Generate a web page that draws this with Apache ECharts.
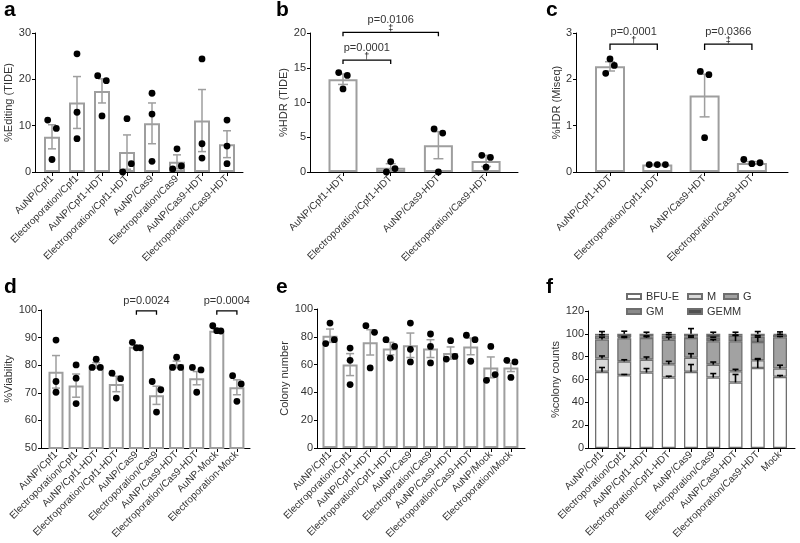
<!DOCTYPE html>
<html><head><meta charset="utf-8">
<script src="https://cdn.jsdelivr.net/npm/echarts@6/dist/echarts.min.js"></script>
<style>html,body{margin:0;padding:0;background:#fff}#c{width:800px;height:543px}</style>
</head><body><div id="c"></div><script>
// ---------------- DATA ----------------
const catsA = ['AuNP/Cpf1','Electroporation/Cpf1','AuNP/Cpf1-HDT','Electroporation/Cpf1-HDT','AuNP/Cas9','Electroporation/Cas9','AuNP/Cas9-HDT','Electroporation/Cas9-HDT'];
const meanA = [7.6,15.0,17.5,4.3,10.5,2.2,11.1,6.0];
const semA  = [2.6,5.6,2.6,3.7,4.4,1.5,6.7,2.9];
const dotsA = [[11.2,9.4,2.7],[25.5,12.9,7.2],[20.8,19.7,12.1],[0,1.8,11.5],[17.0,12.5,2.3],[0.65,1.3,5.0],[24.4,6.1,3.0],[11.2,5.6,1.8]];
const ticksA = [0,10,20,30];

const catsB = ['AuNP/Cpf1-HDT','Electroporation/Cpf1-HDT','AuNP/Cas9-HDT','Electroporation/Cas9-HDT'];
const meanB = [13.35,0.6,3.86,1.6];
const semB  = [0.75,0.6,1.95,0.8];
const dotsB = [[14.3,13.9,11.95],[0,1.5,0.5],[6.2,5.6,0],[2.4,2.1,0.7]];
const ticksB = [0,5,10,15,20];
const bracketsB = [[0,1,16.1,'p=0.0001','†'],[0,2,20.1,'p=0.0106','‡']];

const catsC = ['AuNP/Cpf1-HDT','Electroporation/Cpf1-HDT','AuNP/Cas9-HDT','Electroporation/Cas9-HDT'];
const meanC = [2.28,0.16,1.65,0.195];
const semC  = [0.1,0.01,0.46,0.03];
const dotsC = [[2.13,2.44,2.30],[0.16,0.16,0.16],[2.17,2.10,0.74],[0.27,0.18,0.20]];
const ticksC = [0,1,2,3];
const bracketsC = [[0,1,2.76,'p=0.0001','†'],[2,3,2.76,'p=0.0366','‡']];

const catsD = ['AuNP/Cpf1','Electroporation/Cpf1','AuNP/Cpf1-HDT','Electroporation/Cpf1-HDT','AuNP/Cas9','Electroporation/Cas9','AuNP/Cas9-HDT','Electroporation/Cas9-HDT','AuNP-Mock','Electroporation-Mock'];
const meanD = [77.6,72.6,79.9,73.2,86.7,69.1,80.3,75.3,92.5,72.0];
const semD  = [5.9,4.2,1.0,2.8,0.7,3.3,1.2,2.4,0.6,2.7];
const dotsD = [[89.1,74.1,70.2],[80.1,75.3,66.1],[79.2,82.2,79.2],[77.1,75.1,68.1],[88.3,86.3,86.3],[74.1,71.1,63.0],[79.2,82.9,79.2],[79.2,78.3,70.2],[94.3,92.5,92.4],[76.2,73.2,66.9]];
const ticksD = [50,60,70,80,90,100];
const bracketsD = [[4,5,99.7,'p=0.0024',''],[8,9,99.7,'p=0.0004','']];

const catsE = ['AuNP/Cpf1','Electroporation/Cpf1','AuNP/Cpf1-HDT','Electroporation/Cpf1-HDT','AuNP/Cas9','Electroporation/Cas9','AuNP/Cas9-HDT','Electroporation/Cas9-HDT','AuNP/Mock','Electroporation/Mock'];
const meanE = [80.8,60.0,76.0,71.5,73.9,71.5,68.3,73.1,58.0,58.0];
const semE  = [4.8,7.9,9.1,4.5,8.8,6.4,4.4,6.0,7.5,3.0];
const dotsE = [[75.1,77.9,89.9],[71.9,63.1,45.6],[88.0,83.2,57.6],[77.9,73.1,64.7],[89.9,71.0,61.9],[82.0,73.1,61.2],[64.0,77.2,65.9],[81.1,77.9,62.4],[48.7,52.8,73.1],[63.1,61.9,50.8]];
const ticksE = [0,20,40,60,80,100];

const catsF = ['AuNP/Cpf1','Electroporation/Cpf1','AuNP/Cpf1-HDT','Electroporation/Cpf1-HDT','AuNP/Cas9','Electroporation/Cas9','AuNP/Cas9-HDT','Electroporation/Cas9-HDT','Mock'];
const namesF = ['BFU-E','M','G','GM','GEMM'];
const bfuF  = [66.7,63.8,66.1,61.7,66.7,61.7,57.4,70.1,62.3];
const mF    = [11.6,12.1,11.3,11.6,12.4,11.3,9.8,6.7,7.3];
const gF    = [16.8,20.3,19.1,21.5,17.4,20.6,26.4,16.0,27.5];
const gmF   = [3.5,0.9,1.2,3.8,1.2,2.9,4.7,4.9,2.0];
const gemmF = [1.4,2.9,2.3,1.4,2.3,3.5,1.7,2.3,0.9];
const errBfuF  = [3.8,0.6,3.5,1.2,6.4,3.5,7.0,7.5,1.2];
const errMF    = [2.3,1.4,2.3,2.6,3.5,2.3,1.7,1.5,2.9];
const errGF    = [2.0,0.6,1.0,2.3,0.6,1.4,5.0,4.3,0.6];
const errGMF   = [0.6,0.5,0.5,0.6,0.5,0.6,0.6,0.6,0.5];
const errGemmF = [2.0,2.3,1.4,1.0,4.6,1.4,1.4,2.0,1.7];
const ticksF = [0,20,40,60,80,100,120];

// ---------------- LAYOUT / STYLE ----------------
const FONT = '"Liberation Sans", Arial, Helvetica, sans-serif';
const TXT = '#333';
const BAR_GREY = '#9e9e9e';
const L = {
  a:{axisX:35, axisEnd:243, top:33, bottom:172, first:52, step:25, barW:16, nameGap:18},
  b:{axisX:310, axisEnd:518, top:33, bottom:172, first:343, step:47.7, barW:29, nameGap:18},
  c:{axisX:576, axisEnd:788, top:33, bottom:172, first:610, step:47.3, barW:30, nameGap:13},
  d:{axisX:41, axisEnd:250, top:310, bottom:448, first:56, step:20.1, barW:15, nameGap:23},
  e:{axisX:317, axisEnd:525, top:309, bottom:448, first:330, step:20.1, barW:15, nameGap:26},
  f:{axisX:588, axisEnd:795, top:311, bottom:448, first:602, step:22.25, barW:14, nameGap:27}
};
const fColors = ['#ffffff','#d9d9d9','#a2a2a2','#8a8a8a','#505050'];

const grid=[], xAxis=[], yAxis=[], series=[], legend=[], graphic=[];

function addPanel(lay, cats, ticks, yName){
  const gi = grid.length;
  const min = ticks[0], max = ticks[ticks.length-1], interval = ticks[1]-ticks[0];
  const h = lay.bottom - lay.top;
  grid.push({left:lay.axisX, top:lay.top, width:lay.axisEnd-lay.axisX, height:h, outerBoundsMode:'none', containLabel:false});
  grid.push({left:lay.first-lay.step/2, top:lay.top, width:lay.step*cats.length, height:h, outerBoundsMode:'none', containLabel:false});
  xAxis.push({gridIndex:gi, type:'value', min:0, max:1, axisLine:{show:true, onZero:false, lineStyle:{color:'#000', width:1}}, axisTick:{show:false}, axisLabel:{show:false}, splitLine:{show:false}});
  xAxis.push({gridIndex:gi+1, type:'category', data:cats, axisLine:{show:false},
    axisTick:{show:true, alignWithLabel:true, length:4, lineStyle:{color:'#000', width:1}},
    axisLabel:{rotate:45, interval:0, fontSize:10, color:TXT, fontFamily:FONT, margin:5}, splitLine:{show:false}});
  yAxis.push({gridIndex:gi, type:'value', min:min, max:max, interval:interval, name:yName, nameLocation:'middle', nameGap:lay.nameGap,
    nameTextStyle:{fontSize:11, color:TXT, fontFamily:FONT},
    axisLine:{show:true, onZero:false, lineStyle:{color:'#000', width:1}}, axisTick:{show:true, length:3, lineStyle:{color:'#000'}},
    axisLabel:{fontSize:11, color:TXT, fontFamily:FONT, margin:4}, splitLine:{show:false}});
  yAxis.push({gridIndex:gi+1, type:'value', min:min, max:max, show:false, splitLine:{show:false}});
  return {ai:gi+1, ppu:h/(max-min), min:min, lay:lay};
}

function barSeries(P, means){
  series.push({type:'bar', xAxisIndex:P.ai, yAxisIndex:P.ai, data:means, barWidth:P.lay.barW, silent:true, z:2,
    itemStyle:{color:'#fff', borderColor:BAR_GREY, borderWidth:2}});
}
function errSeries(P, data, color, capHalf, lw, upOnly){
  series.push({type:'custom', xAxisIndex:P.ai, yAxisIndex:P.ai, data:data, clip:false, silent:true, z:3,
    encode:{x:0, y:1},
    renderItem:function(params, api){
      const i=api.value(0), m=api.value(1), e=api.value(2);
      const top=api.coord([i, m+e]);
      const lowV = upOnly ? m : Math.max(m-e, P.min);
      const bot=api.coord([i, lowV]);
      const st={stroke:color, lineWidth:lw};
      const ch=[{type:'line', shape:{x1:top[0],y1:top[1],x2:bot[0],y2:bot[1]}, style:st},
                {type:'line', shape:{x1:top[0]-capHalf,y1:top[1],x2:top[0]+capHalf,y2:top[1]}, style:st}];
      if(!upOnly && m-e>P.min) ch.push({type:'line', shape:{x1:bot[0]-capHalf,y1:bot[1],x2:bot[0]+capHalf,y2:bot[1]}, style:st});
      return {type:'group', children:ch};
    }});
}
function swarm(groups, ppu, barW){
  const out=[];
  groups.forEach(function(vals, i){
    const idx=vals.map(function(v,k){return k;}).sort(function(a,b){return vals[a]-vals[b];});
    const clusters=[]; let cur=[idx[0]];
    for(let k=1;k<idx.length;k++){
      if((vals[idx[k]]-vals[idx[k-1]])*ppu < 9) cur.push(idx[k]); else {clusters.push(cur); cur=[idx[k]];}
    }
    clusters.push(cur);
    clusters.forEach(function(cl){
      const sortedV = cl.map(function(k){return vals[k];}).sort(function(a,b){return a-b;});
      let minDy=Infinity;
      for(let k=1;k<sortedV.length;k++) minDy=Math.min(minDy,(sortedV[k]-sortedV[k-1])*ppu);
      const s = minDy<2 ? barW*0.27 : 4.3;
      const ord = cl.slice().sort(function(a,b){return a-b;});
      const n=ord.length;
      ord.forEach(function(k,j){ out.push([i, vals[k], n===1?0:(n===2?(j===0?-s:s):(j-1)*s)]); });
    });
  });
  return out;
}
function dotSeries(P, groups){
  series.push({type:'custom', xAxisIndex:P.ai, yAxisIndex:P.ai, data:swarm(groups, P.ppu, P.lay.barW), clip:false, silent:true, z:4,
    encode:{x:0, y:1},
    renderItem:function(params, api){
      const c=api.coord([api.value(0), api.value(1)]);
      return {type:'circle', shape:{cx:c[0]+api.value(2), cy:c[1], r:3.4}, style:{fill:'#000'}};
    }});
}
function bracketSeries(P, br, drop){
  series.push({type:'custom', xAxisIndex:P.ai, yAxisIndex:P.ai, data:br.map(function(b){return [b[0],b[1],b[2]];}), clip:false, silent:true, z:5,
    encode:{x:[0,1], y:2},
    renderItem:function(params, api){
      const b=br[params.dataIndex];
      const a=api.coord([b[0], b[2]]), c=api.coord([b[1], b[2]]);
      const mid=(a[0]+c[0])/2;
      const ch=[{type:'polyline', shape:{points:[[a[0],a[1]+drop],[a[0],a[1]],[c[0],c[1]],[c[0],c[1]+drop]]}, style:{stroke:'#000', lineWidth:1.3, fill:null}},
        {type:'text', style:{text:b[3], x:mid, y:a[1]-(b[4]?7:4), align:'center', verticalAlign:'bottom', fontSize:11, fontFamily:FONT, fill:TXT}}];
      if(b[4]) ch.push({type:'text', style:{text:b[4], x:mid, y:a[1]+1, align:'center', verticalAlign:'bottom', fontSize:9, fontFamily:FONT, fill:'#000'}});
      return {type:'group', children:ch};
    }});
}
function sem2data(means, sems){ return means.map(function(m,i){return [i, m, sems[i]];}); }

// panel a
let P = addPanel(L.a, catsA, ticksA, '%Editing (TIDE)');
barSeries(P, meanA); errSeries(P, sem2data(meanA, semA), BAR_GREY, 4, 1.5, false); dotSeries(P, dotsA);
// panel b
P = addPanel(L.b, catsB, ticksB, '%HDR (TIDE)');
barSeries(P, meanB); errSeries(P, sem2data(meanB, semB), BAR_GREY, 5, 1.5, false); dotSeries(P, dotsB); bracketSeries(P, bracketsB, 4);
// panel c
P = addPanel(L.c, catsC, ticksC, '%HDR (Miseq)');
barSeries(P, meanC); errSeries(P, sem2data(meanC, semC), BAR_GREY, 5, 1.5, false); dotSeries(P, dotsC); bracketSeries(P, bracketsC, 6);
// panel d
P = addPanel(L.d, catsD, ticksD, '%Viability');
barSeries(P, meanD); errSeries(P, sem2data(meanD, semD), BAR_GREY, 4, 1.5, false); dotSeries(P, dotsD); bracketSeries(P, bracketsD, 4);
// panel e
P = addPanel(L.e, catsE, ticksE, 'Colony number');
barSeries(P, meanE); errSeries(P, sem2data(meanE, semE), BAR_GREY, 4, 1.5, false); dotSeries(P, dotsE);
// panel f
P = addPanel(L.f, catsF, ticksF, '%colony counts');
const segF = [bfuF, mF, gF, gmF, gemmF];
const errF = [errBfuF, errMF, errGF, errGMF, errGemmF];
segF.forEach(function(seg, s){
  series.push({type:'bar', name:namesF[s], stack:'f', xAxisIndex:P.ai, yAxisIndex:P.ai, data:seg, barWidth:P.lay.barW, silent:true, z:2,
    itemStyle:{color:fColors[s], borderColor:'#6e6e6e', borderWidth:1.3}});
});
const cum = catsF.map(function(){return 0;});
const fErrData = [];
segF.forEach(function(seg, s){ seg.forEach(function(v,i){ cum[i]+=v; fErrData.push([i, cum[i], errF[s][i]]); }); });
errSeries(P, fErrData, '#000', 3, 1.6, true);
const legPos = [[626,291],[687,291],[723,291],[626,306],[687,306]];
namesF.forEach(function(n,k){
  legend.push({data:[n], left:legPos[k][0], top:legPos[k][1], padding:0, itemWidth:14, itemHeight:5, selectedMode:false, icon:'rect',
    textStyle:{fontSize:11, color:TXT, fontFamily:FONT}});
});

// panel letters
[['a',4,22],['b',276,22],['c',546,22],['d',4,299],['e',276,299],['f',546,299]].forEach(function(t){
  graphic.push({type:'text', left:t[1], top:t[2]-22, style:{text:t[0], fontSize:21, fontWeight:'bold', fontFamily:FONT, fill:'#000'}});
});

const chart = echarts.init(document.getElementById('c'), null, {renderer:'canvas'});
chart.setOption({animation:false, backgroundColor:'#fff', grid:grid, xAxis:xAxis, yAxis:yAxis, series:series, legend:legend, graphic:graphic});
</script></body></html>
